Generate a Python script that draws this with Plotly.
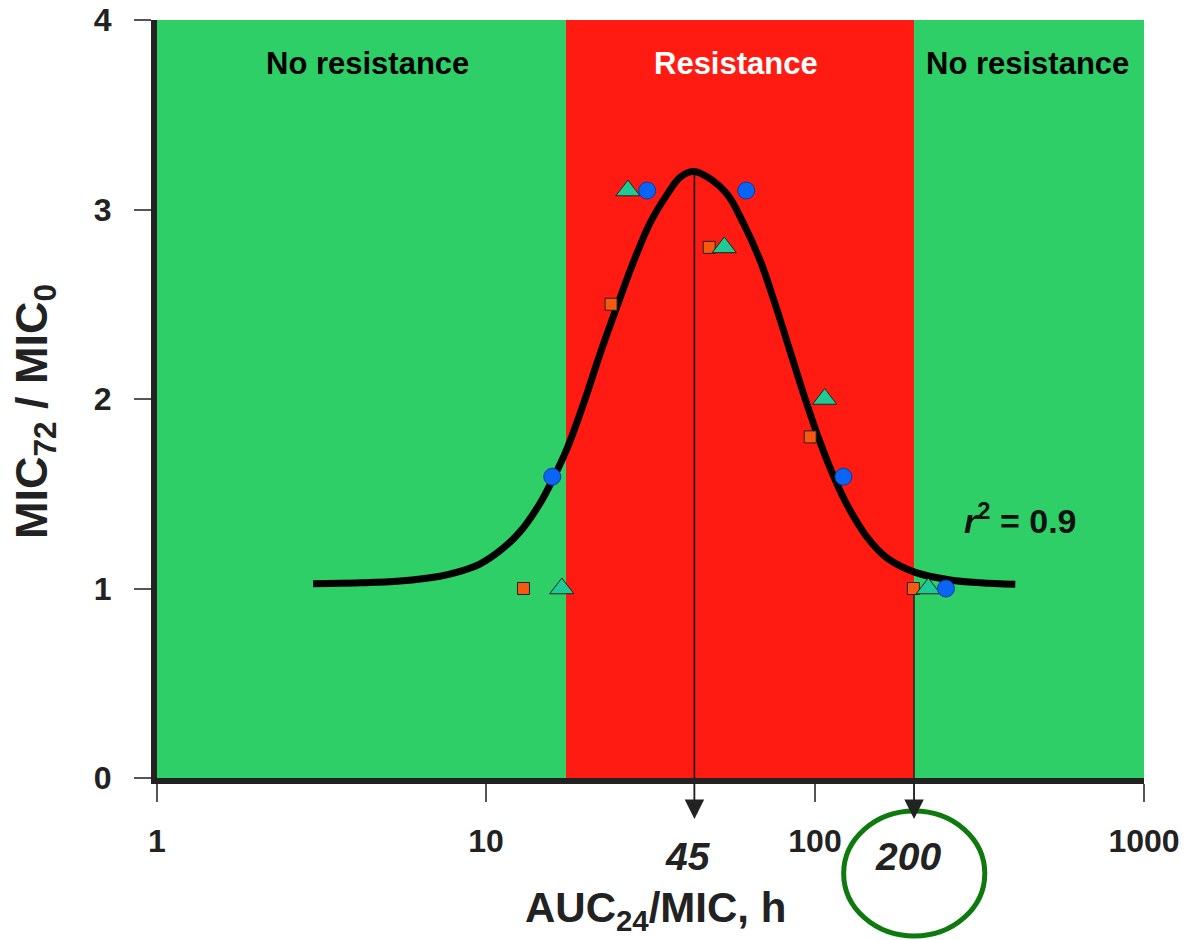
import math
import plotly.graph_objects as go

# ---------------- data ----------------
curve_x = [2.98, 4.14, 5.48, 7.25, 8.34, 9.60, 11.04, 12.70, 14.60, 16.00, 17.65, 19.74, 22.23, 25.03, 28.02,
           31.55, 35.53, 38.92, 42.64, 46.69, 54.08, 60.48, 68.14, 75.69, 84.07, 93.38, 103.7, 114.4,
           125.3, 144.1, 165.8, 201.7, 257.7, 317.9, 406.2]
curve_y = [1.025, 1.03, 1.04, 1.065, 1.09, 1.13, 1.2, 1.3, 1.45, 1.58, 1.74, 1.97, 2.24, 2.49, 2.72,
           2.93, 3.08, 3.17, 3.2, 3.175, 3.08, 2.93, 2.73, 2.5, 2.25, 2.0, 1.77, 1.585,
           1.44, 1.27, 1.16, 1.085, 1.045, 1.03, 1.022]

circle_x = [15.9, 30.9, 61.8, 122.0, 250.0]
circle_y = [1.59, 3.1, 3.1, 1.59, 1.0]

triangle_x = [17.0, 27.0, 53.0, 107.0, 221.0]
triangle_y = [1.0, 3.1, 2.8, 2.0, 1.0]

square_x = [13.0, 24.0, 47.7, 96.7, 199.0]
square_y = [1.0, 2.5, 2.8, 1.8, 1.0]

zone_edges = [1, 17.5, 200, 1000]
zone_names = ["No resistance", "Resistance", "No resistance"]
zone_label_x = [4.35, 57.5, 442.0]

arrow_x = [43, 200]
arrow_labels = ["45", "200"]

x_tickvals = [1, 10, 100, 1000]
x_ticktext = ["1", "10", "100", "1000"]
y_tickvals = [0, 1, 2, 3, 4]
y_ticktext = ["0", "1", "2", "3", "4"]

r2_pos = (420.0, 1.37)

# ---------------- styles ----------------
GREEN = "#2ECF66"
RED = "#FF1A12"
FONT = "Liberation Sans, Arial, sans-serif"

fig = go.Figure()

# background zones
zone_colors = [GREEN, RED, GREEN]
for i in range(3):
    fig.add_shape(type="rect", xref="x", yref="y", x0=zone_edges[i], x1=zone_edges[i + 1],
                  y0=0, y1=4, fillcolor=zone_colors[i], line_width=0, layer="below")

# reference line y = 1
fig.add_shape(type="line", xref="paper", yref="y", x0=0, x1=1, y0=1, y1=1,
              line=dict(color="black", width=1.5), layer="below")
# vertical line at peak
fig.add_shape(type="line", xref="x", yref="y", x0=arrow_x[0], x1=arrow_x[0], y0=0, y1=max(curve_y),
              line=dict(color="black", width=1.5), layer="below")
# vertical line at 200 from y=1 down
fig.add_shape(type="line", xref="x", yref="y", x0=arrow_x[1], x1=arrow_x[1], y0=0, y1=1,
              line=dict(color="#222", width=1.5), layer="below")

# fitted curve
fig.add_trace(go.Scatter(x=curve_x, y=curve_y, mode="lines",
                         line=dict(color="black", width=7, shape="spline", smoothing=1.0),
                         hoverinfo="skip", showlegend=False))

fig.add_trace(go.Scatter(x=square_x, y=square_y, mode="markers",
                         marker=dict(symbol="square", size=12, color="#F55A10", line=dict(color="#222", width=1)),
                         showlegend=False))
fig.add_trace(go.Scatter(x=triangle_x, y=triangle_y, mode="markers",
                         marker=dict(symbol="triangle-up", size=21, color="#1ECB94", line=dict(color="#222", width=1)),
                         showlegend=False))
fig.add_trace(go.Scatter(x=circle_x, y=circle_y, mode="markers",
                         marker=dict(symbol="circle", size=17, color="#0A64F5", line=dict(color="#0A3A9A", width=1)),
                         showlegend=False))

annotations = []
# zone labels
for name, lx, col in zip(zone_names, zone_label_x, ["black", "white", "black"]):
    annotations.append(dict(x=math.log10(lx), y=3.77, xref="x", yref="y", text="<b>" + name + "</b>",
                            showarrow=False, yanchor="middle",
                            font=dict(family=FONT, size=31, color=col)))

# arrows below the axis and their labels
for ax_x, lab in zip(arrow_x, arrow_labels):
    annotations.append(dict(x=math.log10(ax_x), y=-0.054, xref="x", yref="paper", text="",
                            showarrow=True, ax=0, ay=-42, arrowhead=2, arrowsize=2.6, arrowwidth=1.5,
                            arrowcolor="#222"))
    annotations.append(dict(x=math.log10(ax_x), y=-0.104, xref="x", yref="paper", xshift=-6,
                            xanchor="center", yanchor="middle",
                            text="<b><i>" + lab + "</i></b>", showarrow=False,
                            font=dict(family=FONT, size=39, color="#222")))

# r^2
annotations.append(dict(x=math.log10(r2_pos[0]), y=r2_pos[1], xref="x", yref="y", yanchor="middle",
                        text="<b><i>r</i><sup>2</sup> = 0.9</b>", showarrow=False,
                        font=dict(family=FONT, size=34, color="#111")))

# axis titles
annotations.append(dict(x=0.505, y=-0.175, xref="paper", yref="paper", xanchor="center", yanchor="middle",
                        text="<b>AUC<sub>24</sub>/MIC, h</b>", showarrow=False,
                        font=dict(family=FONT, size=42, color="#222")))
annotations.append(dict(x=-0.1247, y=0.484, xref="paper", yref="paper", xanchor="center", yanchor="middle",
                        text="<b>MIC<sub>72</sub> / MIC<sub>0</sub></b>", showarrow=False, textangle=-90,
                        font=dict(family=FONT, size=45, color="#222")))

shapes_extra = [
    # stems of arrows below axis
    dict(type="line", xref="x", yref="paper", x0=arrow_x[0], x1=arrow_x[0], y0=0, y1=-0.035,
         line=dict(color="#222", width=1.5), layer="above"),
    dict(type="line", xref="x", yref="paper", x0=arrow_x[1], x1=arrow_x[1], y0=0, y1=-0.035,
         line=dict(color="#222", width=1.5), layer="above"),
    # green ellipse around 200
    dict(type="circle", xref="paper", yref="paper", x0=0.6957, x1=0.8387, y0=-0.2084, y1=-0.0435,
         line=dict(color="#0E7A0E", width=5), layer="above"),
]
for s in shapes_extra:
    fig.add_shape(**s)

fig.update_layout(
    width=1187, height=940, autosize=False,
    margin=dict(l=157, r=43, t=20, b=162),
    paper_bgcolor="white", plot_bgcolor="white",
    font=dict(family=FONT, color="#222"),
    annotations=annotations,
    showlegend=False,
)
fig.update_xaxes(type="log", range=[0, 3], showgrid=False, zeroline=False, automargin=False,
                 showline=True, linecolor="#222", linewidth=6,
                 ticks="outside", ticklen=18, tickwidth=2, tickcolor="#555",
                 tickvals=x_tickvals, ticktext=["<b>" + t + "</b>" for t in x_ticktext],
                 tickfont=dict(family=FONT, size=32, color="#222"), ticklabelstandoff=12)
fig.update_yaxes(range=[0, 4], showgrid=False, zeroline=False, automargin=False,
                 showline=True, linecolor="#222", linewidth=6,
                 ticks="outside", ticklen=17, tickwidth=2, tickcolor="#555",
                 tickvals=y_tickvals, ticktext=["<b>" + t + "</b>" for t in y_ticktext],
                 tickfont=dict(family=FONT, size=32, color="#222"), ticklabelstandoff=16)

fig.write_html("out.html")
